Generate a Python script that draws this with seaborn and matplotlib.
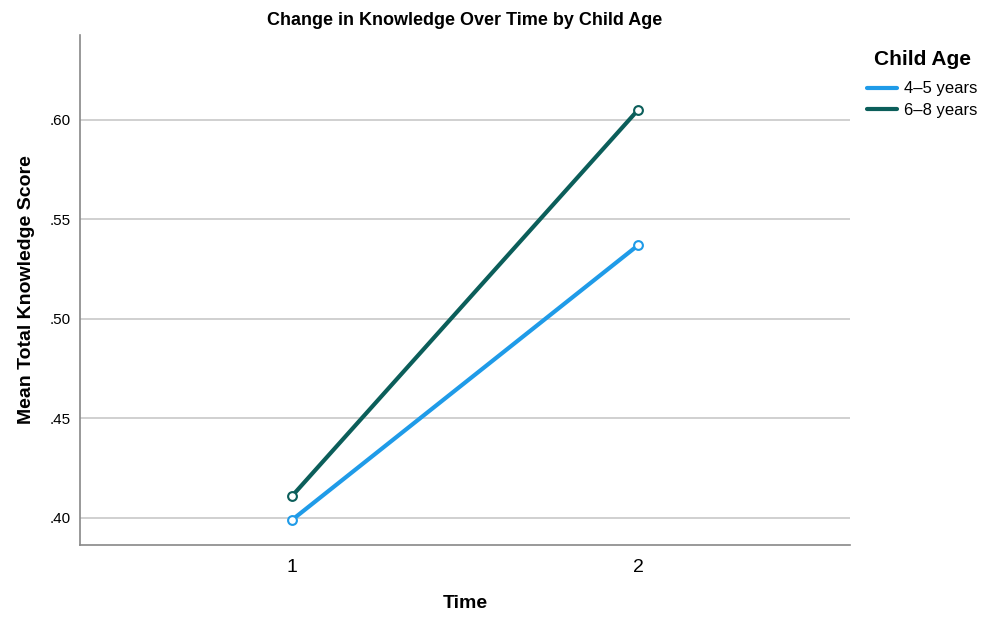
import pandas as pd
import matplotlib.pyplot as plt
import seaborn as sns

sns.set_style("white")
plt.rcParams['font.family'] = ['Liberation Sans', 'DejaVu Sans']
plt.rcParams['text.color'] = 'black'
plt.rcParams['axes.labelcolor'] = 'black'
plt.rcParams['xtick.color'] = 'black'
plt.rcParams['ytick.color'] = 'black'

# values
times = [1, 2]
young = [0.399, 0.537]   # 4-5 years
older = [0.411, 0.605]   # 6-8 years
groups = ["4\u20135 years", "6\u20138 years"]
colors = ["#1f9be8", "#0b5e5a"]

df = pd.DataFrame({
    "Time": times * 2,
    "Score": young + older,
    "Child Age": [groups[0]] * 2 + [groups[1]] * 2,
})

fig = plt.figure(figsize=(9.92, 6.24), dpi=100)
ax = fig.add_axes([80 / 992, 1 - 545 / 624, 770 / 992, 510 / 624])

sns.lineplot(data=df, x="Time", y="Score", hue="Child Age", palette=colors,
             linewidth=3, ax=ax, legend=False)
for g, c in zip(groups, colors):
    sub = df[df["Child Age"] == g]
    ax.scatter(sub["Time"], sub["Score"], s=40, facecolors="white",
               edgecolors=c, linewidths=1.5, zorder=3)

ax.set_xlim(0.387, 2.613)
ax.set_ylim(0.3864, 0.6427)
ax.set_xticks([1, 2])
ax.set_xticklabels(["1", "2"], fontsize=14)
ax.set_yticks([0.40, 0.45, 0.50, 0.55, 0.60])
ax.set_yticklabels([".40", ".45", ".50", ".55", ".60"], fontsize=11)
ax.tick_params(axis="x", length=0, pad=10)
ax.tick_params(axis="y", length=0, pad=7)
ax.yaxis.grid(True, color="#c8c8c8", linewidth=1.2)
ax.set_axisbelow(True)
for s in ["top", "right"]:
    ax.spines[s].set_visible(False)
for s in ["left", "bottom"]:
    ax.spines[s].set_color("#888888")
    ax.spines[s].set_linewidth(1.2)

ax.set_xlabel("Time", fontsize=14, fontweight="bold", labelpad=14)
ax.set_ylabel("Mean Total Knowledge Score", fontsize=14, fontweight="bold", labelpad=10)
ax.set_title("Change in Knowledge Over Time by Child Age", fontsize=13,
             fontweight="bold", pad=7)

handles = [plt.Line2D([], [], color=c, linewidth=3) for c in colors]
leg = ax.legend(handles, groups, title="Child Age", loc="upper left",
                bbox_to_anchor=(1.003, 1.0), frameon=False, fontsize=12,
                handlelength=1.8, handletextpad=0.4, labelspacing=0.4)
leg.get_title().set_fontweight("bold")
leg.get_title().set_fontsize(15)
leg._legend_box.sep = 9

fig.savefig("out.png", dpi=100)
